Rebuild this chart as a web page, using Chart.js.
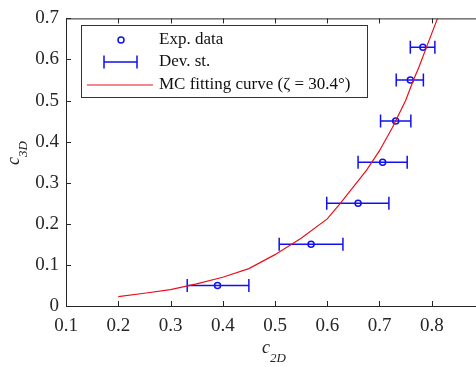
<!DOCTYPE html>
<html>
<head>
<meta charset="utf-8">
<script src="https://cdn.jsdelivr.net/npm/chart.js@4"></script>
<style>
  html, body { margin: 0; padding: 0; background: #fff; overflow: hidden; }
  #wrap { position: absolute; left: 0; top: 0; width: 500px; height: 367px; }
</style>
</head>
<body>
<div id="wrap"><canvas id="chart" width="500" height="367"></canvas></div>
<script>
// experimental points (c2D, c3D) and the std-dev range in c2D
const expX = [0.390, 0.569, 0.659, 0.706, 0.731, 0.759, 0.783];
const expY = [0.05, 0.15, 0.25, 0.35, 0.45, 0.55, 0.63];
const errLow = [0.332, 0.508, 0.599, 0.659, 0.702, 0.732, 0.759];
const errHigh = [0.450, 0.630, 0.718, 0.753, 0.760, 0.784, 0.806];

// MC fitting curve
const curveX = [0.20, 0.25, 0.30, 0.35, 0.40, 0.45, 0.50, 0.55, 0.60, 0.625, 0.65, 0.675, 0.70, 0.725, 0.75, 0.765, 0.775, 0.79, 0.811];
const curveY = [0.023, 0.031, 0.040, 0.054, 0.070, 0.091, 0.125, 0.165, 0.212, 0.25, 0.29, 0.33, 0.378, 0.435, 0.50, 0.55, 0.58, 0.63, 0.70];

const xTicks = [0.1, 0.2, 0.3, 0.4, 0.5, 0.6, 0.7, 0.8];
const yTicks = [0, 0.1, 0.2, 0.3, 0.4, 0.5, 0.6, 0.7];

const SERIF = "'Liberation Serif', 'Times New Roman', serif";
const AXIS = '#262626';
const BLUE = '#1010f0';
const RED = '#e8101a';

const errSets = expY.map((y, i) => ({
  type: 'line',
  data: [{ x: errLow[i], y: y }, { x: errHigh[i], y: y }],
  borderColor: BLUE,
  borderWidth: 1.5,
  pointStyle: 'line',
  rotation: 90,
  pointRadius: 6.5,
  pointBorderColor: BLUE,
  pointBorderWidth: 1.5,
  pointHoverRadius: 6.5
}));

const frame = {
  id: 'frame',
  afterDraw(chart) {
    const ctx = chart.ctx;
    const a = chart.chartArea;
    const xs = chart.scales.x, ys = chart.scales.y;
    ctx.save();
    ctx.strokeStyle = AXIS;
    ctx.lineWidth = 1;
    // top border
    ctx.beginPath();
    ctx.moveTo(a.left, a.top + 0.5);
    ctx.lineTo(a.right, a.top + 0.5);
    ctx.stroke();
    // inward ticks
    ctx.beginPath();
    xTicks.forEach(v => {
      const px = Math.round(xs.getPixelForValue(v)) + 0.5;
      ctx.moveTo(px, a.bottom); ctx.lineTo(px, a.bottom - 5);
      ctx.moveTo(px, a.top); ctx.lineTo(px, a.top + 5);
    });
    yTicks.forEach(v => {
      const py = Math.round(ys.getPixelForValue(v)) + 0.5;
      ctx.moveTo(a.left, py); ctx.lineTo(a.left + 5, py);
    });
    ctx.stroke();

    // legend
    const lx = 81, ly = 25, lw = 286, lh = 72;
    ctx.fillStyle = '#fff';
    ctx.fillRect(lx, ly, lw, lh);
    ctx.strokeStyle = '#333';
    ctx.strokeRect(lx + 0.5, ly + 0.5, lw, lh);
    const rows = [40, 62, 85];
    ctx.strokeStyle = BLUE;
    ctx.lineWidth = 1.5;
    ctx.beginPath();
    ctx.arc(121, rows[0], 3, 0, Math.PI * 2);
    ctx.stroke();
    ctx.beginPath();
    ctx.moveTo(104, rows[1]); ctx.lineTo(137, rows[1]);
    ctx.moveTo(104, rows[1] - 6.5); ctx.lineTo(104, rows[1] + 6.5);
    ctx.moveTo(137, rows[1] - 6.5); ctx.lineTo(137, rows[1] + 6.5);
    ctx.stroke();
    ctx.strokeStyle = RED;
    ctx.lineWidth = 1.2;
    ctx.beginPath();
    ctx.moveTo(87, rows[2]); ctx.lineTo(153, rows[2]);
    ctx.stroke();
    ctx.fillStyle = '#111';
    ctx.font = '17px ' + SERIF;
    ctx.textBaseline = 'middle';
    ctx.fillText('Exp. data', 159, rows[0]);
    ctx.fillText('Dev. st.', 159, rows[1]);
    ctx.fillText('MC fitting curve (\u03B6 = 30.4\u00B0)', 159, rows[2]);

    // axis titles with subscripts
    ctx.fillStyle = AXIS;
    ctx.textBaseline = 'alphabetic';
    ctx.font = 'italic 18px ' + SERIF;
    ctx.fillText('c', 262, 353);
    ctx.font = 'italic 13px ' + SERIF;
    ctx.fillText('2D', 270, 362);
    ctx.translate(19, 165);
    ctx.rotate(-Math.PI / 2);
    ctx.font = 'italic 18px ' + SERIF;
    ctx.fillText('c', 0, 0);
    ctx.font = 'italic 13px ' + SERIF;
    ctx.fillText('3D', 8, 8);
    ctx.restore();
  }
};

new Chart(document.getElementById('chart'), {
  type: 'scatter',
  data: {
    datasets: [
      {
        type: 'line',
        data: curveX.map((x, i) => ({ x: x, y: curveY[i] })),
        borderColor: RED,
        borderWidth: 1.2,
        pointRadius: 0,
        tension: 0
      },
      ...errSets,
      {
        type: 'scatter',
        data: expX.map((x, i) => ({ x: x, y: expY[i] })),
        pointStyle: 'circle',
        pointRadius: 3,
        borderColor: BLUE,
        borderWidth: 1.5,
        backgroundColor: 'rgba(0,0,0,0)'
      }
    ]
  },
  options: {
    responsive: false,
    animation: false,
    layout: { padding: { top: 10, right: 16, left: 0, bottom: 0 } },
    plugins: { legend: { display: false }, tooltip: { enabled: false } },
    scales: {
      x: {
        type: 'linear',
        min: 0.1,
        max: 0.9,
        afterBuildTicks: s => { s.ticks = xTicks.map(v => ({ value: v })); },
        afterFit: s => { s.height = 61; },
        grid: { display: true, drawOnChartArea: false, drawTicks: false },
        border: { display: true, color: AXIS, width: 1 },
        ticks: {
          padding: 9,
          color: AXIS,
          font: { family: SERIF, size: 19 },
          callback: v => v.toFixed(1)
        }
      },
      y: {
        type: 'linear',
        min: 0,
        max: 0.7,
        afterBuildTicks: s => { s.ticks = yTicks.map(v => ({ value: v })); },
        afterFit: s => { s.width = 66; },
        grid: { display: true, drawOnChartArea: false, drawTicks: false },
        border: { display: true, color: AXIS, width: 1 },
        ticks: {
          padding: 7,
          color: AXIS,
          font: { family: SERIF, size: 19 },
          callback: v => v === 0 ? '0' : v.toFixed(1)
        }
      }
    }
  },
  plugins: [frame]
});
</script>
</body>
</html>
